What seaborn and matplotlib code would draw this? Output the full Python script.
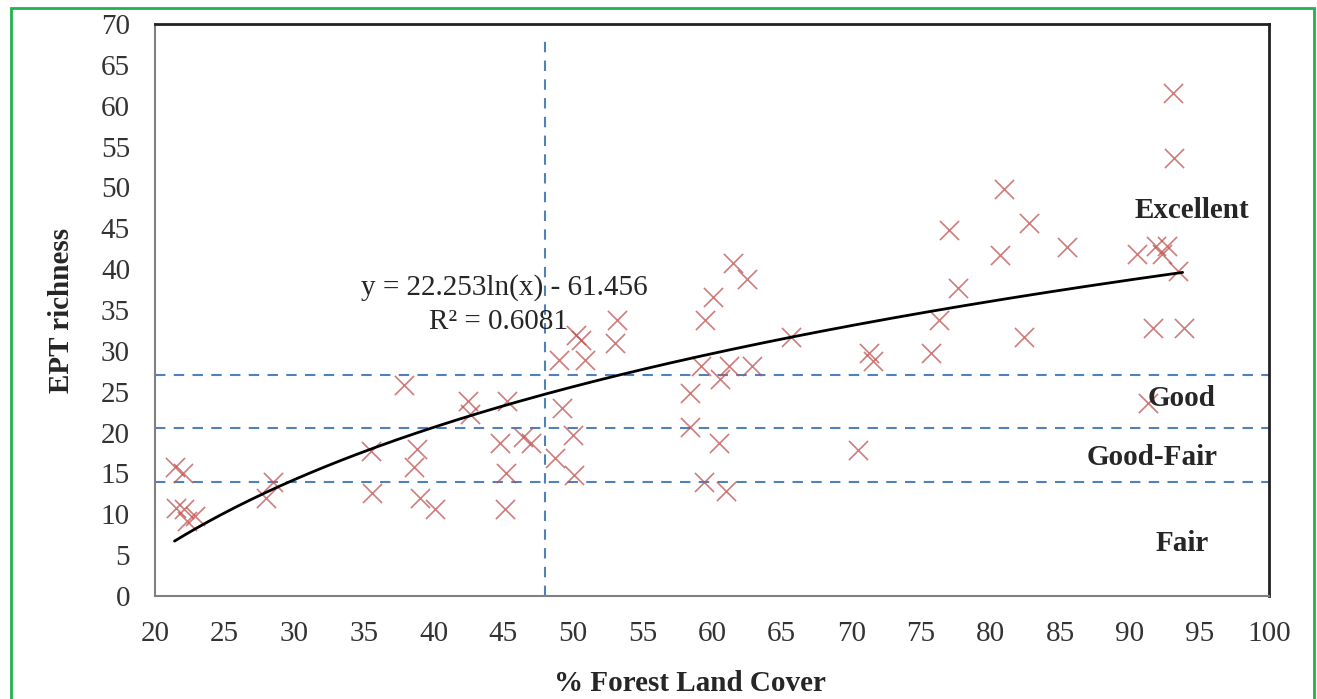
import numpy as np
import matplotlib
matplotlib.use("Agg")
import matplotlib.pyplot as plt
from matplotlib.patches import Rectangle
import seaborn as sns
import pandas as pd

# --- data ---
forest = [21.4, 22.0, 21.5, 22.1, 22.3, 22.9, 28.0, 28.5, 35.5, 35.6,
          37.9, 38.8, 38.6, 39.0, 40.1, 42.5, 42.6, 45.3, 44.8, 45.2,
          45.1, 46.4, 47.0, 48.7, 50.1, 50.0, 49.2, 49.0, 50.9, 50.2,
          50.6, 53.2, 53.0, 61.5, 62.5, 60.1, 59.5, 65.7, 59.2, 61.2,
          62.9, 60.6, 58.4, 58.4, 60.5, 59.4, 61.0, 71.3, 71.6, 70.5,
          81.0, 82.8, 77.0, 80.7, 85.5, 77.7, 76.3, 75.7, 82.4, 90.5,
          91.9, 92.7, 92.3, 93.5, 91.7, 93.9, 91.3, 93.1, 93.2]
ept = [15.8, 15.0, 10.8, 10.6, 9.2, 9.8, 12.0, 14.0, 17.7, 12.6,
       25.8, 18.0, 15.8, 12.0, 10.6, 23.8, 22.3, 23.8, 18.7, 15.0,
       10.7, 19.5, 18.7, 16.9, 14.8, 19.7, 23.0, 28.9, 28.9, 31.9,
       31.3, 33.8, 30.9, 40.7, 38.8, 36.6, 33.8, 31.7, 28.1, 28.1,
       28.1, 26.6, 24.8, 20.7, 18.7, 14.0, 12.8, 29.7, 28.7, 17.9,
       49.8, 45.6, 44.8, 41.7, 42.7, 37.7, 33.8, 29.7, 31.7, 41.8,
       42.8, 42.8, 41.8, 39.8, 32.8, 32.8, 23.6, 61.5, 53.6]

# log trendline as printed on the chart
trend_a, trend_b = 22.253, -61.456
trend_range = [21.4, 93.8]

# category thresholds and forest cutoff
thresholds = [27.0, 20.5, 14.0]
forest_cut = 48.0
forest_cut_top = 68.0
categories = ["Excellent", "Good", "Good-Fair", "Fair"]
cat_x = [94.5, 93.7, 91.6, 93.8]
cat_y = [47.2, 24.2, 17.0, 6.4]

df = pd.DataFrame({"forest": forest, "ept": ept})

sns.set_style("white")
plt.rcParams['font.family'] = ['Liberation Serif', 'DejaVu Serif']

fig = plt.figure(figsize=(13.17, 6.99), dpi=100)
ax = fig.add_axes([0.1177, 0.1474, 0.8458, 0.8183])

# threshold lines
for t in thresholds:
    ax.axhline(t, color='#4F81BD', lw=1.5, ls=(0, (5, 4)), zorder=1)
ax.plot([forest_cut, forest_cut], [0, forest_cut_top], color='#4F81BD',
        lw=1.5, ls=(0, (5, 4)), zorder=1)

# scatter points
sns.scatterplot(data=df, x="forest", y="ept", marker='x', s=190,
                color='#C0504D', alpha=0.75, linewidth=1.2, ax=ax, zorder=3)

# trendline
xs = np.linspace(trend_range[0], trend_range[1], 200)
trend = pd.DataFrame({"x": xs, "y": trend_a * np.log(xs) + trend_b})
sns.lineplot(data=trend, x="x", y="y", color='black', lw=2, ax=ax, zorder=4)

ax.text(45.1, 37.8, "y = 22.253ln(x) - 61.456", fontsize=21, ha='center', va='center')
ax.text(44.7, 33.5, "R² = 0.6081", fontsize=21, ha='center', va='center')

for lab, cx, cy in zip(categories, cat_x, cat_y):
    ax.text(cx, cy, lab, fontsize=21, fontweight='bold', ha='center', va='center')

ax.set_xlim(20, 100)
ax.set_ylim(0, 70)
ax.set_xticks(np.arange(20, 101, 5))
ax.set_yticks(np.arange(0, 71, 5))
ax.tick_params(axis='both', direction='in', length=8, width=1.2, color='#808080',
               labelsize=21, labelcolor='#333333')
ax.tick_params(axis='y', pad=18)
ax.tick_params(axis='x', pad=18)

for side in ['left', 'bottom']:
    ax.spines[side].set_color('#808080')
    ax.spines[side].set_linewidth(1.5)
for side in ['top', 'right']:
    ax.spines[side].set_color('#222222')
    ax.spines[side].set_linewidth(2)

ax.set_xlabel("% Forest Land Cover", fontsize=21, fontweight='bold')
ax.set_ylabel("EPT richness", fontsize=21, fontweight='bold')
ax.xaxis.set_label_coords(0.48, -0.13)
ax.yaxis.set_label_coords(-0.072, 0.5)

# green outer frame
fig.patches.append(Rectangle((0.0084, -0.02), 0.9893, 1.0086, transform=fig.transFigure,
                             fill=False, edgecolor='#22B14C', lw=2))

fig.savefig("out.png", dpi=100)
